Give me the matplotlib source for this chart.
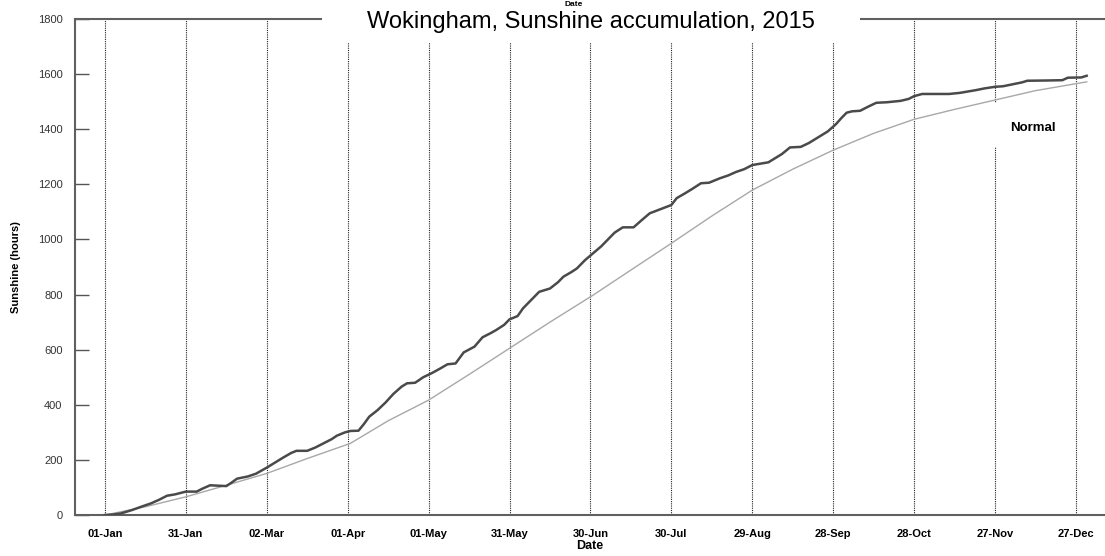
import matplotlib.pyplot as plt
from matplotlib.patches import Rectangle

plt.rcParams['font.family'] = ['Liberation Sans', 'DejaVu Sans']

# day of year (0 = 1 Jan) and accumulated sunshine hours
actual_days = [0, 3, 6, 10, 14, 17, 20, 23, 26, 30, 34, 36, 39, 45, 47, 49, 53, 56, 60, 63,
               66, 69, 71, 75, 78, 81, 84, 86, 89, 91, 94, 96, 98, 101, 104, 107, 110, 112,
               115, 118, 121, 124, 127, 130, 133, 137, 140, 143, 145, 148, 150, 153, 155,
               158, 161, 165, 168, 170, 173, 175, 178, 181, 184, 187, 189, 192, 196, 199,
               202, 206, 210, 212, 215, 218, 221, 224, 228, 231, 234, 237, 240, 243, 246,
               248, 251, 254, 258, 261, 264, 268, 271, 273, 275, 277, 280, 283, 286, 290,
               295, 298, 300, 303, 313, 317, 320, 323, 326, 330, 333, 337, 340, 342, 350,
               355, 357, 362, 364]
actual_hours = [0, 2, 6, 18, 32, 42, 55, 70, 75, 85, 85, 95, 108, 105, 118, 132, 140, 150,
                172, 190, 208, 225, 233, 233, 245, 260, 275, 288, 300, 305, 306, 330, 357,
                380, 408, 440, 466, 478, 480, 500, 514, 530, 547, 550, 590, 611, 645, 660,
                671, 690, 710, 722, 750, 780, 810, 822, 845, 865, 882, 895, 925, 950, 975,
                1005, 1025, 1044, 1044, 1070, 1095, 1110, 1125, 1150, 1167, 1185, 1204,
                1206, 1222, 1232, 1245, 1255, 1270, 1275, 1280, 1292, 1310, 1334, 1336,
                1350, 1368, 1392, 1418, 1440, 1460, 1465, 1467, 1482, 1496, 1498, 1503,
                1510, 1520, 1528, 1528, 1532, 1537, 1542, 1548, 1554, 1556, 1564, 1570,
                1576, 1577, 1578, 1587, 1588, 1594]

normal_days = [0, 15, 30, 45, 60, 75, 91, 105, 120, 135, 150, 165, 181, 195, 210, 225, 240,
               255, 270, 285, 300, 315, 330, 345, 364]
normal_hours = [0, 30, 66, 108, 151, 205, 260, 342, 417, 510, 605, 700, 798, 889, 986, 1085,
                1179, 1255, 1324, 1385, 1436, 1472, 1506, 1540, 1572]

tick_days = [0, 30, 60, 90, 120, 150, 180, 210, 240, 270, 300, 330, 360]
tick_labels = ['01-Jan', '31-Jan', '02-Mar', '01-Apr', '01-May', '31-May', '30-Jun',
               '30-Jul', '29-Aug', '28-Sep', '28-Oct', '27-Nov', '27-Dec']

fig = plt.figure(figsize=(11.05, 5.56), dpi=100)
ax = fig.add_axes([0.0679, 0.0737, 0.9321, 0.8921])

ax.set_xlim(-11.1, 370.8)
ax.set_ylim(0, 1800)

for d in tick_days:
    ax.axvline(d, color='#222222', linestyle=(0, (1, 1)), linewidth=0.8, zorder=1)

ax.plot(normal_days, normal_hours, color='#a8a8a8', linewidth=1.0, zorder=4)
ax.plot(actual_days, actual_hours, color='#4a4a4a', linewidth=1.8, zorder=5)

# white patches behind the title and the "Normal" label
ax.add_patch(Rectangle((80.5, 1713), 199.5, 200, facecolor='white', edgecolor='none',
                       zorder=3, clip_on=False))
ax.add_patch(Rectangle((320, 1335), 38, 160, facecolor='white', edgecolor='none', zorder=3))
ax.text(344, 1404, 'Normal', fontsize=9.5, fontweight='bold', ha='center', va='center',
        zorder=6)

ax.set_xticks(tick_days)
ax.set_xticklabels(tick_labels, fontsize=8, fontweight='bold')
ax.tick_params(axis='x', length=0, pad=10)
ax.set_yticks(range(0, 1801, 200))
ax.tick_params(axis='y', direction='in', length=10, width=1, color='#555555',
               labelsize=8, labelcolor='#333333', pad=9)

ax.spines['right'].set_visible(False)
for side in ['left', 'top', 'bottom']:
    ax.spines[side].set_color('#606060')
    ax.spines[side].set_linewidth(1.5)

ax.set_xlabel('Date', fontsize=9, fontweight='bold', labelpad=1)
ax.set_ylabel('Sunshine (hours)', fontsize=8, fontweight='bold', labelpad=12)

fig.text(591 / 1105, 1 - 22 / 556, 'Wokingham, Sunshine accumulation, 2015',
         fontsize=17, ha='center', va='center')
fig.text(574 / 1105, 0.999, 'Date', fontsize=6, fontweight='bold', ha='center',
         va='top')

fig.savefig('out.png', dpi=100)
